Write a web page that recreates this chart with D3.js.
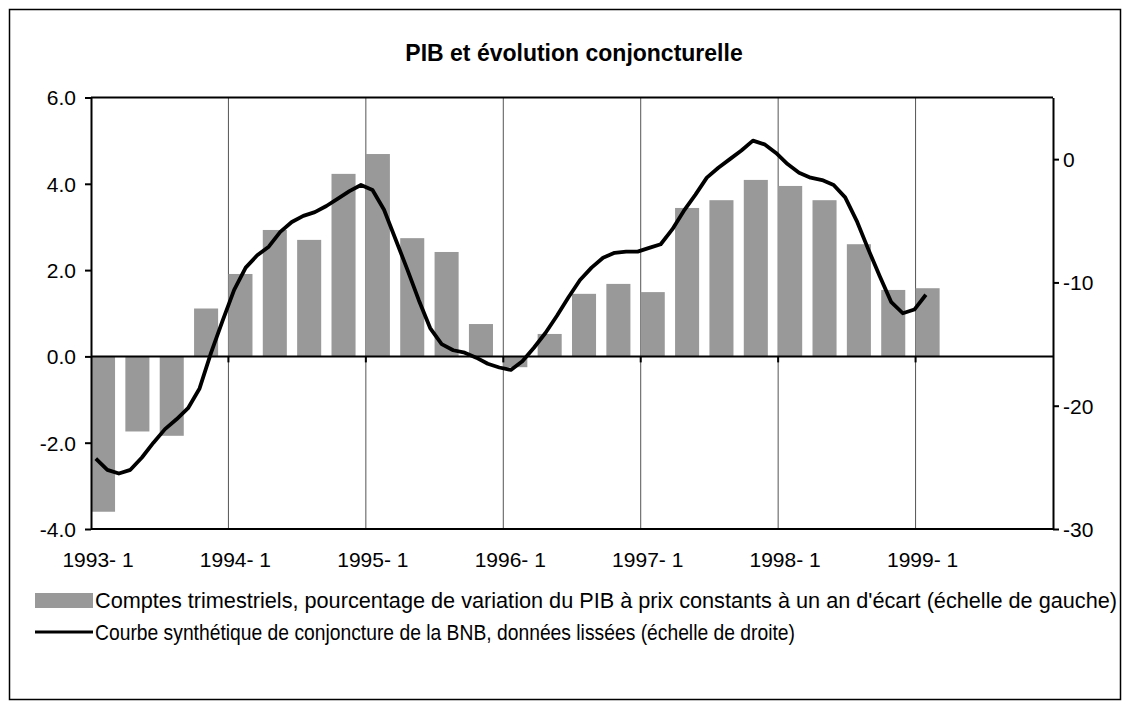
<!DOCTYPE html>
<html>
<head>
<meta charset="utf-8">
<script src="https://cdn.jsdelivr.net/npm/d3@7"></script>
<style>
  body { margin: 0; background: #fff; }
  svg text { font-family: "Liberation Sans", Arial, sans-serif; fill: #000; }
</style>
</head>
<body>
<svg id="chart" width="1130" height="709"></svg>
<script>
// Data: quarterly GDP growth (left axis) and smoothed BNB curve (right axis, monthly)
const yearLabels = ["1993- 1", "1994- 1", "1995- 1", "1996- 1", "1997- 1", "1998- 1", "1999- 1"];
const gdpGrowth = [-3.6, -1.74, -1.84, 1.11, 1.91, 2.93, 2.70, 4.23, 4.69, 2.74, 2.42, 0.75,
    -0.25, 0.52, 1.45, 1.68, 1.49, 3.44, 3.62, 4.09, 3.95, 3.62, 2.60, 1.54, 1.58];
const bnbCurve = [-24.3, -25.2, -25.5, -25.2, -24.2, -23.0, -21.9, -21.1, -20.2, -18.6, -15.7, -13.1,
    -10.6, -8.8, -7.8, -7.1, -5.9, -5.1, -4.6, -4.3, -3.8, -3.2, -2.6, -2.1,
    -2.5, -4.1, -6.5, -8.9, -11.4, -13.7, -15.0, -15.5, -15.7, -16.1, -16.6, -16.9,
    -17.1, -16.4, -15.3, -14.1, -12.7, -11.2, -9.8, -8.8, -8.0, -7.6, -7.5, -7.5,
    -7.2, -6.9, -5.7, -4.2, -2.9, -1.5, -0.7, 0.0, 0.7, 1.5, 1.2, 0.5,
    -0.4, -1.1, -1.5, -1.7, -2.1, -3.1, -5.0, -7.3, -9.5, -11.6, -12.5, -12.2, -11.0];
const leftTicks = [-4, -2, 0, 2, 4, 6];
const rightTicks = [-30, -20, -10, 0];
const legendLabels = [
    "Comptes trimestriels, pourcentage de variation du PIB à prix constants à un an d'écart (échelle de gauche)",
    "Courbe synthétique de conjoncture de la BNB, données lissées (échelle de droite)"
];

const svg = d3.select("#chart");
const plotLeft = 91, plotRight = 1053, plotTop = 97.5, plotBottom = 529;
const barColor = "#999999";
const hyphen = s => s.replace("\u2212", "-");

// frame
svg.append("rect")
    .attr("x", 9.5).attr("y", 9.5)
    .attr("width", 1111).attr("height", 690)
    .attr("fill", "none").attr("stroke", "#000").attr("stroke-width", 1.5);

svg.append("text")
    .attr("x", 574).attr("y", 61)
    .attr("text-anchor", "middle")
    .style("font-size", "23px").style("font-weight", "bold")
    .text("PIB et évolution conjoncturelle");

// scales
const x = d3.scaleLinear().domain([0, 28]).range([plotLeft, plotRight]);
const step = x(1) - x(0);
const yL = d3.scaleLinear().domain([-4, 6]).range([plotBottom, plotTop]);
const yR = d3.scaleLinear().domain([-30, 5]).range([plotBottom, plotTop]);
const xLine = d3.scaleLinear().domain([0, bnbCurve.length - 1]).range([x(0.14), x(24.3)]);

// vertical grid lines at each year
svg.append("g")
    .selectAll("line")
    .data(d3.range(1, yearLabels.length))
    .enter()
    .append("line")
    .attr("x1", d => x(d * 4)).attr("x2", d => x(d * 4))
    .attr("y1", plotTop).attr("y2", plotBottom)
    .attr("stroke", "#555").attr("stroke-width", 1);

// bars
svg.append("g")
    .selectAll("rect")
    .data(gdpGrowth)
    .enter()
    .append("rect")
    .attr("x", (d, i) => x(i))
    .attr("width", step * 0.7)
    .attr("y", d => yL(Math.max(0, d)))
    .attr("height", d => Math.abs(yL(d) - yL(0)))
    .attr("fill", barColor);

// zero axis with year ticks
svg.append("line")
    .attr("x1", plotLeft).attr("x2", plotRight)
    .attr("y1", yL(0)).attr("y2", yL(0))
    .attr("stroke", "#000").attr("stroke-width", 2);
svg.append("g")
    .selectAll("line")
    .data(d3.range(1, yearLabels.length))
    .enter()
    .append("line")
    .attr("x1", d => x(d * 4)).attr("x2", d => x(d * 4))
    .attr("y1", yL(0)).attr("y2", yL(0) + 6)
    .attr("stroke", "#000").attr("stroke-width", 2);

// year labels
svg.append("g")
    .selectAll("text")
    .data(yearLabels)
    .enter()
    .append("text")
    .attr("x", (d, i) => x(i * 4) + 7)
    .attr("y", 567)
    .attr("text-anchor", "middle")
    .style("font-size", "21px")
    .text(d => d);

// plot border lines (top / bottom)
[plotTop, plotBottom].forEach(yy => {
    svg.append("line")
        .attr("x1", plotLeft).attr("x2", plotRight)
        .attr("y1", yy).attr("y2", yy)
        .attr("stroke", "#000").attr("stroke-width", 2);
});

// left axis
const leftAxis = d3.axisLeft(yL).tickValues(leftTicks).tickSize(6).tickSizeOuter(0)
    .tickFormat(d => hyphen(d3.format(".1f")(d)));
const gl = svg.append("g").attr("transform", `translate(${plotLeft},0)`).call(leftAxis);
gl.select(".domain").attr("stroke", "#000").attr("stroke-width", 2);
gl.selectAll(".tick line").attr("stroke", "#000").attr("stroke-width", 2);
gl.selectAll(".tick text").attr("x", -15).attr("dy", "0.35em")
    .style("font-size", "21px").attr("fill", "#000");

// right axis
const rightAxis = d3.axisRight(yR).tickValues(rightTicks).tickSize(6).tickSizeOuter(0)
    .tickFormat(d => hyphen(d3.format("d")(d)));
const gr = svg.append("g").attr("transform", `translate(${plotRight},0)`).call(rightAxis);
gr.select(".domain").attr("stroke", "#000").attr("stroke-width", 2);
gr.selectAll(".tick line").attr("stroke", "#000").attr("stroke-width", 2);
gr.selectAll(".tick text").attr("x", 10).attr("dy", "0.35em")
    .style("font-size", "21px").attr("fill", "#000");

// smoothed curve
const line = d3.line()
    .x((d, i) => xLine(i))
    .y(d => yR(d));
svg.append("path")
    .datum(bnbCurve)
    .attr("d", line)
    .attr("fill", "none")
    .attr("stroke", "#000")
    .attr("stroke-width", 3.8)
    .attr("stroke-linejoin", "round");

// legend
const legendWidths = [1022, 700];
const lg = svg.append("g");
lg.append("rect")
    .attr("x", 35).attr("y", 593).attr("width", 58).attr("height", 15)
    .attr("fill", barColor);
lg.append("line")
    .attr("x1", 35).attr("x2", 93).attr("y1", 632).attr("y2", 632)
    .attr("stroke", "#000").attr("stroke-width", 3);
lg.selectAll("text")
    .data(legendLabels)
    .enter()
    .append("text")
    .attr("x", 95)
    .attr("y", (d, i) => 608 + i * 32)
    .attr("textLength", (d, i) => legendWidths[i])
    .attr("lengthAdjust", "spacingAndGlyphs")
    .style("font-size", "21.6px")
    .text(d => d);
</script>
</body>
</html>
